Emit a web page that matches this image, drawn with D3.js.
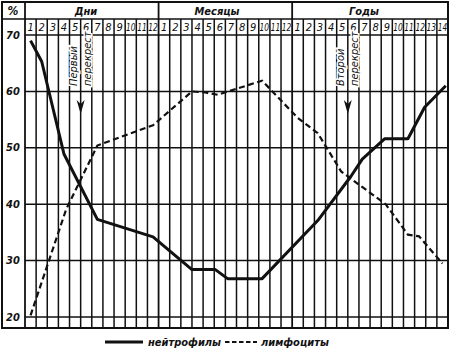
<!DOCTYPE html>
<html>
<head>
<meta charset="utf-8">
<script src="https://cdn.jsdelivr.net/npm/d3@7"></script>
<style>
  body { margin: 0; background: #fff; }
  svg { display: block; }
  text { font-family: "DejaVu Sans Condensed", "DejaVu Sans", sans-serif; font-style: italic; fill: #111; }
</style>
</head>
<body>
<div id="chart"></div>
<script>
// sections and their column labels
const sections = ["Дни", "Месяцы", "Годы"];
const dayTicks = d3.range(1, 13);
const monthTicks = d3.range(1, 13);
const yearTicks = d3.range(1, 15);
const yTicks = [20, 30, 40, 50, 60, 70];

// x = column position (days 1-12, months 13-24, years 25-38)
const neutroX = [1, 2, 4, 7, 12, 15.5, 17.6, 18.7, 21.8, 26.8, 29.8, 30.8, 32.8, 34.9, 36.4, 38.3];
const neutroY = [69, 65.3, 48.9, 37.3, 34.2, 28.4, 28.4, 26.8, 26.8, 37.1, 45, 48, 51.6, 51.6, 57.2, 61];
const lymphoX = [1, 4.2, 7, 12, 15.5, 16.7, 17.8, 21.8, 25, 26.8, 28.9, 32.9, 34.9, 35.9, 38];
const lymphoY = [20.3, 39.1, 50.4, 54, 60, 59.8, 59.4, 61.9, 55.3, 52.6, 45.8, 40, 34.6, 34.3, 29.5];

// crossovers sit on a column boundary
const arrows = [
  { col: 5, lines: ["Первый", "перекрест"] },
  { col: 29, lines: ["Второй", "перекрест"] }
];
const legendItems = ["нейтрофилы", "лимфоциты"];

const width = 450, height = 349;
const frame = { left: 2, top: 2, right: 448, bottom: 328 };
const plotLeft = 25, headRow = 19;

const svg = d3.select("#chart").append("svg")
  .attr("width", width)
  .attr("height", height);

const x = d3.scaleLinear().domain([0, 38]).range([plotLeft, frame.right]);
const y = d3.scaleLinear().domain([20, 70]).range([317, 35]);
const col = p => x(p - 0.5);

const ink = "#111";

// vertical grid lines (column boundaries)
svg.append("g")
  .selectAll("line")
  .data(d3.range(1, 38))
  .join("line")
    .attr("x1", d => x(d)).attr("x2", d => x(d))
    .attr("y1", d => (d === 12 || d === 24) ? frame.top : headRow)
    .attr("y2", frame.bottom)
    .attr("stroke", ink)
    .attr("stroke-width", d => (d === 12 || d === 24) ? 1.8 : 1.5);

// horizontal grid lines
svg.append("g")
  .selectAll("line")
  .data(yTicks)
  .join("line")
    .attr("x1", plotLeft).attr("x2", frame.right)
    .attr("y1", d => y(d)).attr("y2", d => y(d))
    .attr("stroke", ink)
    .attr("stroke-width", 1.5);

// header separators
svg.append("line")
  .attr("x1", frame.left).attr("x2", frame.right)
  .attr("y1", headRow).attr("y2", headRow)
  .attr("stroke", ink).attr("stroke-width", 1.5);
svg.append("line")
  .attr("x1", plotLeft).attr("x2", plotLeft)
  .attr("y1", frame.top).attr("y2", frame.bottom)
  .attr("stroke", ink).attr("stroke-width", 1.8);

// outer frame
svg.append("rect")
  .attr("x", frame.left).attr("y", frame.top)
  .attr("width", frame.right - frame.left)
  .attr("height", frame.bottom - frame.top)
  .attr("fill", "none")
  .attr("stroke", ink)
  .attr("stroke-width", 2);

// "%" and section headers
svg.append("text")
  .attr("x", 13).attr("y", 11)
  .attr("text-anchor", "middle").attr("dominant-baseline", "central")
  .style("font-size", "12px").style("font-weight", "bold")
  .text("%");

const sectionCenters = [86, 217, 364];
svg.append("g")
  .selectAll("text")
  .data(sections)
  .join("text")
    .attr("x", (d, i) => sectionCenters[i])
    .attr("y", 11)
    .attr("text-anchor", "middle").attr("dominant-baseline", "central")
    .style("font-size", "11px").style("font-weight", "bold")
    .text(d => d);

// column numbers
const colLabels = [].concat(dayTicks, monthTicks, yearTicks);
svg.append("g")
  .selectAll("text")
  .data(colLabels)
  .join("text")
    .attr("x", (d, i) => col(i + 1))
    .attr("y", 27)
    .attr("text-anchor", "middle").attr("dominant-baseline", "central")
    .style("font-size", "11px")
    .attr("textLength", d => d > 9 ? 9.5 : null)
    .attr("lengthAdjust", "spacingAndGlyphs")
    .text(d => d);

// y labels
svg.append("g")
  .selectAll("text")
  .data(yTicks)
  .join("text")
    .attr("x", 13)
    .attr("y", d => y(d))
    .attr("text-anchor", "middle").attr("dominant-baseline", "central")
    .style("font-size", "11px").style("font-weight", "bold")
    .text(d => d);

// crossover arrows
arrows.forEach(a => {
  const ax = x(a.col);
  const g = svg.append("g");
  const p = d3.path();
  p.moveTo(ax - 4, 100);
  p.lineTo(ax, 114);
  p.lineTo(ax + 4, 100);
  p.lineTo(ax, 104);
  p.closePath();
  g.append("path").attr("d", p.toString()).attr("fill", ink);
  a.lines.forEach((t, i) => {
    const tx = ax + (i === 0 ? -7 : 6.5);
    g.append("text")
      .attr("transform", `translate(${tx},86) rotate(-90)`)
      .attr("dominant-baseline", "central")
      .style("font-size", "11px")
      .attr("stroke", "#fff").attr("stroke-width", 3)
      .attr("paint-order", "stroke")
      .text(t);
  });
});

// data lines
const line = d3.line()
  .x(d => col(d[0]))
  .y(d => y(d[1]));

svg.append("path")
  .datum(d3.zip(lymphoX, lymphoY))
  .attr("d", line)
  .attr("fill", "none")
  .attr("stroke", ink)
  .attr("stroke-width", 2.2)
  .attr("stroke-dasharray", "6,3.5");

svg.append("path")
  .datum(d3.zip(neutroX, neutroY))
  .attr("d", line)
  .attr("fill", "none")
  .attr("stroke", ink)
  .attr("stroke-width", 3)
  .attr("stroke-linejoin", "round");

// legend
const lg = svg.append("g");
lg.append("line")
  .attr("x1", 105).attr("x2", 143).attr("y1", 342).attr("y2", 342)
  .attr("stroke", ink).attr("stroke-width", 3);
lg.append("text")
  .attr("x", 148).attr("y", 342)
  .attr("dominant-baseline", "central")
  .style("font-size", "11px").style("font-weight", "bold")
  .text(legendItems[0]);
lg.append("line")
  .attr("x1", 225).attr("x2", 257).attr("y1", 342).attr("y2", 342)
  .attr("stroke", ink).attr("stroke-width", 2.2)
  .attr("stroke-dasharray", "4.5,2.5");
lg.append("text")
  .attr("x", 261).attr("y", 342)
  .attr("dominant-baseline", "central")
  .style("font-size", "11px").style("font-weight", "bold")
  .text(legendItems[1]);
</script>
</body>
</html>
